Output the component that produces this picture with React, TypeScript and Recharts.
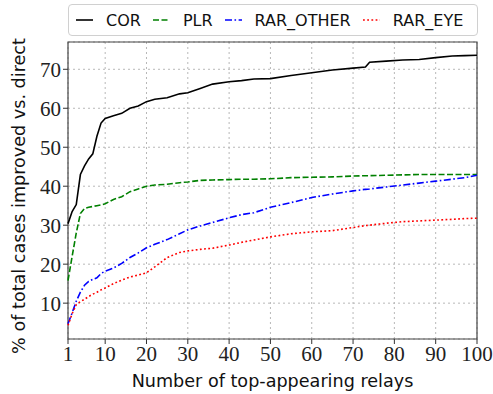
import React from "react";
import {
  LineChart,
  Line,
  XAxis,
  YAxis,
  CartesianGrid,
  ReferenceArea,
} from "recharts";

// relay counts (x) sampled along the curves
const RELAYS = [
  1, 2, 3, 4, 5, 6, 7, 8, 9, 10, 12, 14, 16, 18, 20, 22, 25, 28, 30, 33, 36,
  40, 43, 46, 50, 55, 60, 65, 70, 73, 74, 78, 82, 86, 90, 94, 97, 100,
];

const COR = [
  30.4, 33.5, 35.3, 43.0, 45.2, 47.0, 48.3, 52.8, 56.2, 57.4, 58.1, 58.7,
  60.0, 60.6, 61.7, 62.3, 62.7, 63.7, 64.0, 65.1, 66.2, 66.8, 67.1, 67.5,
  67.6, 68.4, 69.1, 69.8, 70.3, 70.6, 71.8, 72.1, 72.4, 72.5, 73.0, 73.4,
  73.5, 73.6,
];

const PLR = [
  15.8, 22.0, 28.0, 33.0, 34.3, 34.6, 34.8, 35.0, 35.2, 35.5, 36.6, 37.3,
  38.6, 39.3, 40.0, 40.3, 40.5, 40.9, 41.1, 41.5, 41.6, 41.7, 41.8, 41.8,
  41.9, 42.2, 42.3, 42.4, 42.6, 42.7, 42.7, 42.8, 42.9, 43.0, 43.0, 43.0,
  43.0, 43.0,
];

const RAR_OTHER = [
  4.7, 7.5, 10.5, 12.8, 14.6, 15.6, 16.1, 16.5, 17.6, 18.2, 19.0, 20.2, 21.7,
  22.9, 24.2, 25.1, 26.3, 27.8, 28.8, 29.8, 30.7, 31.9, 32.7, 33.2, 34.6,
  35.8, 37.1, 38.0, 38.8, 39.2, 39.3, 39.8, 40.3, 40.8, 41.3, 41.8, 42.2,
  42.8,
];

const RAR_EYE = [
  4.3, 7.3, 9.6, 10.4, 11.0, 11.7, 12.3, 12.8, 13.4, 13.9, 15.0, 15.9, 16.7,
  17.2, 17.8, 19.3, 21.7, 23.0, 23.4, 23.8, 24.1, 24.9, 25.6, 26.2, 27.0,
  27.8, 28.3, 28.6, 29.4, 29.9, 30.0, 30.5, 30.9, 31.1, 31.3, 31.5, 31.7,
  31.8,
];

const X_TICKS = [1, 10, 20, 30, 40, 50, 60, 70, 80, 90, 100];
const Y_TICKS = [10, 20, 30, 40, 50, 60, 70];

const X_DOMAIN: [number, number] = [1, 100];
const Y_DOMAIN: [number, number] = [0.8, 77];

const SERIES = [
  { key: "COR", name: "COR", color: "#000000", dash: undefined },
  { key: "PLR", name: "PLR", color: "#008000", dash: "6 2.5" },
  { key: "RAR_OTHER", name: "RAR_OTHER", color: "#0000ff", dash: "7 2.5 1.6 2.5" },
  { key: "RAR_EYE", name: "RAR_EYE", color: "#ff0000", dash: "1.8 2.4" },
];

const data = RELAYS.map((r, i) => ({
  relays: r,
  COR: COR[i],
  PLR: PLR[i],
  RAR_OTHER: RAR_OTHER[i],
  RAR_EYE: RAR_EYE[i],
}));

const SANS = "'DejaVu Sans', sans-serif";
const SERIF = "'Liberation Serif', serif";

const XTitle = ({ viewBox }: any) => {
  const { x, width } = viewBox;
  return (
    <text
      x={x + width / 2}
      y={387}
      textAnchor="middle"
      fontFamily={SANS}
      fontSize={17.6}
      fill="#111"
    >
      Number of top-appearing relays
    </text>
  );
};

const YTitle = () => {
  const cx = 25;
  const cy = 196;
  return (
    <text
      x={cx}
      y={cy}
      transform={`rotate(-90 ${cx} ${cy})`}
      textAnchor="middle"
      fontFamily={SANS}
      fontSize={17.6}
      fill="#111"
    >
      % of total cases improved vs. direct
    </text>
  );
};

function LegendBox() {
  return (
    <div
      style={{
        position: "absolute",
        left: 68,
        top: 4,
        width: 410,
        height: 32,
        boxSizing: "border-box",
        border: "1px solid #d0d0d0",
        borderRadius: 4,
        display: "flex",
        alignItems: "center",
        paddingLeft: 7,
        fontFamily: SANS,
        fontSize: 16,
        color: "#111",
        background: "#fff",
      }}
    >
      {SERIES.map((s) => (
        <div
          key={s.key}
          style={{ display: "flex", alignItems: "center", marginRight: 12 }}
        >
          <svg width={17} height={10} style={{ marginRight: 13 }}>
            <line
              x1={0}
              y1={5}
              x2={17}
              y2={5}
              stroke={s.color}
              strokeWidth={1.6}
              strokeDasharray={s.dash}
            />
          </svg>
          <span>{s.name}</span>
        </div>
      ))}
    </div>
  );
}

export default function App() {
  return (
    <div
      style={{
        position: "absolute",
        left: 0,
        top: 0,
        width: 493,
        height: 394,
        background: "#fff",
      }}
    >
      <LineChart
        width={493}
        height={394}
        data={data}
        margin={{ top: 42, right: 16, bottom: 0, left: 0 }}
      >
        <CartesianGrid stroke="#b8b8b8" strokeDasharray="2 3" />
        <XAxis
          dataKey="relays"
          type="number"
          domain={X_DOMAIN}
          ticks={X_TICKS}
          height={55}
          axisLine={false}
          tickSize={5}
          tickMargin={2}
          tickLine={{ stroke: "#333" }}
          tick={{ fill: "#222", fontSize: 21, fontFamily: SERIF }}
          label={<XTitle />}
        />
        <YAxis
          type="number"
          domain={Y_DOMAIN}
          ticks={Y_TICKS}
          width={68}
          axisLine={false}
          tickSize={5}
          tickMargin={2}
          tickLine={{ stroke: "#333" }}
          tick={{ fill: "#222", fontSize: 21, fontFamily: SERIF }}
          label={<YTitle />}
        />
        <ReferenceArea
          x1={X_DOMAIN[0]}
          x2={X_DOMAIN[1]}
          y1={Y_DOMAIN[0]}
          y2={Y_DOMAIN[1]}
          fill="none"
          fillOpacity={0}
          stroke="#444"
          strokeWidth={1.2}
          ifOverflow="visible"
        />
        {SERIES.map((s) => (
          <Line
            key={s.key}
            dataKey={s.key}
            name={s.name}
            type="linear"
            stroke={s.color}
            strokeWidth={1.6}
            strokeDasharray={s.dash}
            dot={false}
            isAnimationActive={false}
          />
        ))}
      </LineChart>
      <LegendBox />
    </div>
  );
}
